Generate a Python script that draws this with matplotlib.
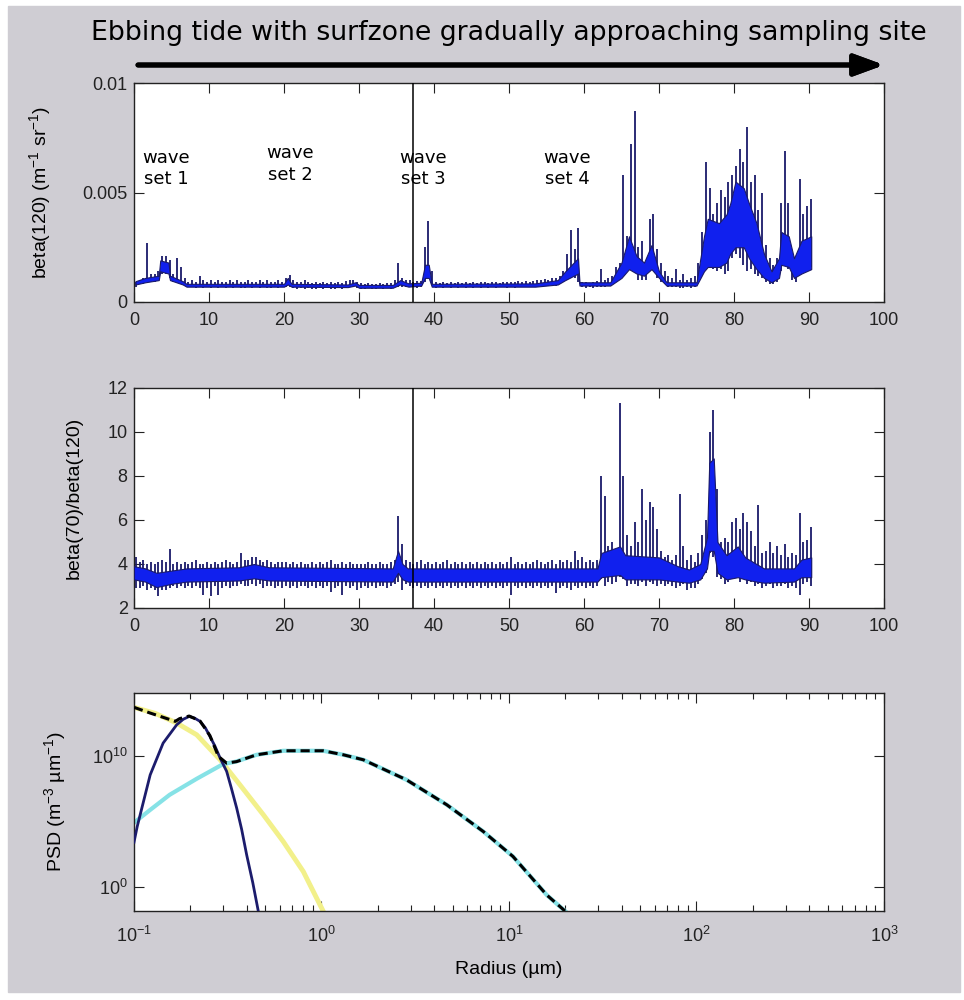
import numpy as np
import matplotlib
matplotlib.use("Agg")
import matplotlib.pyplot as plt
from matplotlib.patches import Rectangle
from matplotlib.ticker import FixedLocator, LogLocator, NullLocator, LogFormatterMathtext

plt.rcParams['font.family'] = ['Liberation Sans', 'DejaVu Sans']
plt.rcParams['mathtext.default'] = 'regular'

NAVY = '#1a1a6a'
BLUE = '#1020ee'

# ---- panel 1: beta(120), per 0.5-wide bin, in units of 1e-4 (max / min of the trace)
b120_hi = [9, 10, 11, 27, 13, 13, 14, 21, 21, 19,
           13, 20, 16, 11, 9, 10, 9, 12, 10, 9,
           10, 9, 10, 9, 9, 10, 9, 10, 9, 9,
           10, 9, 9, 10, 9, 10, 9, 9, 10, 9,
           11, 12.5, 10, 9, 9, 10, 9, 8.5, 9, 8.5,
           9, 8.5, 9, 8.5, 9, 8.5, 9.5, 10, 10, 9,
           8.5, 8, 8.5, 8, 8, 8.5, 8, 8.5, 8.5, 10,
           18, 11, 10, 10, 9, 9.5, 9.5, 25, 37, 14,
           9, 8.5, 9, 8.5, 9, 8.5, 9, 8.5, 9, 8.5,
           9, 8.5, 9, 9, 8.5, 9, 9, 8.5, 9, 9,
           9, 9, 9.5, 9, 9.5, 9, 9.5, 10, 10, 10.5,
           10, 11, 11, 12, 14, 22, 33, 24, 34, 9,
           9, 8.5, 9, 9.5, 15, 10, 11, 12, 16, 18,
           58, 30, 72, 87, 25, 28, 18, 38, 40, 24,
           18, 14, 12, 11, 15, 10, 13, 10, 11, 12,
           18, 32, 64, 52, 40, 45, 51, 48, 55, 58,
           62, 70, 64, 80, 55, 58, 42, 50, 26, 20,
           17, 20, 45, 69, 45, 22, 20, 56, 40, 44,
           47]
b120_lo = [7, 8, 8, 9, 9, 9, 10, 13, 13, 11,
           9, 10, 9, 8, 7, 7, 6.5, 7, 6.5, 7,
           6.5, 7, 6.5, 7, 6.5, 7, 6.5, 7, 6.5, 6.5,
           7, 6.5, 7, 6.5, 7, 6.5, 6.5, 7, 6.5, 7,
           7, 7, 6.5, 6, 6.5, 6, 6.5, 6, 6, 6.5,
           6, 6.5, 6, 6, 6.5, 6, 6.5, 7, 7, 6.5,
           6, 6, 6.5, 6, 6, 6.5, 6, 6.5, 6, 7,
           7, 7, 7, 7, 7, 6.5, 7, 9, 11, 8,
           6.5, 7, 6.5, 7, 6.5, 7, 6.5, 7, 6.5, 7,
           6.5, 7, 6.5, 7, 6.5, 7, 6.5, 7, 7, 6.5,
           7, 6.5, 7, 7, 7, 7.5, 7, 7.5, 7.5, 7.5,
           7.5, 8, 7.5, 8, 9, 10, 11, 11, 9, 7,
           6.5, 7, 6.5, 7, 7, 7, 7.5, 8, 9, 11,
           14, 16, 22, 15, 10, 10, 10, 14, 15, 11,
           9, 8, 7, 7, 7, 6.5, 6.5, 7, 6.5, 7,
           9, 14, 20, 18, 15, 14, 15, 13, 14, 20,
           22, 20, 17, 14, 15, 13, 12, 11, 9, 8,
           8, 9, 14, 18, 15, 10, 9, 14, 15, 14,
           16]
# dense core of the trace, 1e-4 units
core1_x = [0.2, 1.5, 3.3, 3.5, 4.6, 4.8, 6.5, 7.0, 20.0, 20.5, 21.0, 28.5, 29.5, 30.0,
           34.5, 35.5, 36.6, 38.3, 38.8, 39.3, 39.7, 53.5, 56.5, 57.5, 59.2, 59.4,
           63.5, 65, 66, 67, 68, 69, 70, 71,
           75, 76, 76.5, 78, 79, 79.5, 80.2, 81.3, 82, 83, 84, 85, 86, 86.3, 87.3, 88, 89, 90.3]
core1_lo = [8, 9, 10, 14, 13, 10, 8, 7, 7, 8, 7, 6.8, 7.5, 6.5,
            6.5, 8, 7, 7.5, 11, 11, 7, 7, 8, 10, 13, 7.5,
            7.5, 11, 15, 13, 12, 15, 11, 7.5,
            7.5, 14, 16, 16, 18, 22, 25, 25, 20, 15, 11, 9, 11, 17, 16, 11, 13, 15]
core1_hi = [9.5, 11, 12, 19, 18, 12, 9.5, 8.3, 8.3, 11, 8.3, 8, 9, 7.8,
            7.8, 10, 8.5, 8.8, 17, 17, 8.3, 8.5, 10, 14, 20, 9,
            9, 18, 30, 21, 18, 26, 14, 9,
            9, 30, 38, 36, 40, 45, 55, 52, 45, 36, 22, 14, 20, 32, 30, 20, 28, 30]

# ---- panel 2: beta(70)/beta(120), per 0.5-wide bin
ratio_hi = [4.3, 4.1, 4.2, 4.0, 4.1, 4.0, 4.1, 4.2, 4.1, 4.7,
            4.0, 4.1, 4.0, 4.1, 4.0, 4.1, 4.2, 4.0, 4.0, 4.1,
            4.0, 4.1, 4.0, 4.1, 4.2, 4.1, 4.0, 4.1, 4.5, 4.2,
            4.2, 4.3, 4.3, 4.2, 4.1, 4.2, 4.1, 4.0, 4.1, 4.1,
            4.1, 4.0, 4.1, 4.0, 4.1, 4.0, 4.0, 4.1, 4.0, 4.1,
            4.0, 4.1, 4.2, 4.0, 4.0, 4.1, 4.0, 4.1, 4.0, 4.0,
            4.0, 4.0, 4.1, 4.0, 4.0, 4.1, 4.0, 4.0, 4.1, 4.2,
            6.2, 4.9, 4.2, 4.1, 4.0, 4.1, 4.2, 4.0, 4.1, 4.0,
            4.1, 4.0, 4.1, 4.2, 4.0, 4.1, 4.0, 4.1, 4.0, 4.1,
            4.0, 4.1, 4.0, 4.1, 4.0, 4.1, 4.0, 4.1, 4.0, 4.1,
            4.3, 4.0, 4.1, 4.0, 4.1, 4.0, 4.1, 4.2, 4.1, 4.0,
            4.1, 4.2, 4.0, 4.2, 4.1, 4.2, 4.1, 4.6, 4.2, 4.3,
            4.1, 4.2, 4.1, 4.2, 8.0, 7.1, 4.8, 5.0, 4.6, 11.3,
            8.0, 5.3, 4.8, 5.9, 5.0, 7.4, 6.0, 6.8, 6.6, 5.6,
            4.6, 4.3, 4.4, 4.2, 4.4, 7.2, 4.8, 4.2, 4.4, 4.1,
            4.5, 5.3, 6.0, 10.0, 11.0, 7.4, 5.0, 5.2, 5.0, 5.9,
            6.1, 5.6, 6.3, 5.9, 5.5, 4.8, 6.7, 4.5, 4.6, 5.0,
            4.5, 4.8, 4.4, 4.9, 4.3, 4.5, 4.4, 6.3, 5.0, 5.1,
            5.7]
ratio_lo = [2.9, 2.9, 3.0, 2.8, 2.9, 2.8, 2.55, 2.8, 2.8, 2.9,
            3.0, 2.9, 3.0, 2.9, 3.0, 2.9, 3.0, 2.9, 2.6, 2.9,
            2.55, 3.0, 2.6, 2.9, 3.0, 2.9, 3.0, 3.0, 3.1, 3.0,
            3.0, 3.1, 3.0, 3.1, 2.9, 3.0, 3.0, 2.9, 3.0, 2.9,
            3.0, 2.9, 3.0, 2.9, 3.0, 3.0, 2.9, 3.0, 2.9, 3.0,
            2.9, 3.0, 2.75, 2.9, 3.0, 2.6, 3.0, 2.9, 3.0, 2.8,
            2.9, 3.0, 2.9, 3.0, 2.9, 3.0, 3.0, 2.9, 3.0, 3.1,
            3.2, 2.8, 3.1, 3.0, 2.9, 3.0, 2.9, 3.0, 2.9, 3.0,
            2.9, 3.0, 2.9, 3.0, 2.9, 3.0, 2.9, 3.0, 2.9, 3.0,
            2.9, 3.0, 2.9, 3.0, 2.9, 3.0, 2.9, 3.0, 2.9, 3.0,
            2.6, 3.0, 2.9, 3.0, 2.9, 3.0, 2.9, 3.0, 2.9, 3.0,
            2.9, 3.0, 2.7, 2.9, 3.0, 2.9, 2.8, 3.0, 2.9, 3.0,
            2.9, 3.0, 2.9, 3.0, 3.3, 3.0, 3.2, 3.1, 3.2, 3.4,
            3.3, 3.0, 3.1, 3.1, 3.0, 3.2, 3.0, 3.2, 3.1, 3.0,
            3.1, 3.0, 3.1, 3.0, 2.9, 3.0, 3.1, 2.8, 2.9, 2.9,
            3.1, 3.3, 3.6, 4.5, 4.3, 3.4, 3.3, 3.1, 3.2, 3.3,
            3.4, 3.2, 3.3, 3.1, 3.2, 3.0, 3.1, 2.9, 3.0, 3.1,
            2.9, 3.0, 3.0, 3.1, 2.9, 3.0, 2.9, 2.6, 3.1, 3.2,
            3.0]
core2_x = [0, 1.5, 3.0, 5.0, 7.0, 14.0, 16.0, 18.0, 34.5, 35.2, 35.8, 36.5,
           61.8, 62.3, 64.8, 65.5, 70.0, 72.5, 74.0, 75.5,
           76.4, 76.7, 77.3, 77.8, 79.0, 80.5, 81.5, 83.0, 84.0, 88.0, 89.0, 90.3]
core2_lo = [3.3, 3.2, 2.95, 3.1, 3.2, 3.25, 3.35, 3.25, 3.2, 3.6, 3.3, 3.2,
            3.2, 3.4, 3.5, 3.3, 3.3, 3.2, 3.15, 3.3,
            3.8, 4.6, 4.6, 3.6, 3.3, 3.4, 3.3, 3.2, 3.15, 3.2, 3.4, 3.4]
core2_hi = [3.9, 3.8, 3.6, 3.7, 3.8, 3.85, 4.0, 3.85, 3.8, 4.6, 4.0, 3.8,
            3.8, 4.5, 4.8, 4.4, 4.3, 3.9, 3.75, 4.0,
            5.2, 8.6, 8.8, 5.0, 4.4, 4.8, 4.3, 4.0, 3.8, 3.8, 4.2, 4.3]

marker_x = 37.2
wave_labels = ['wave\nset 1', 'wave\nset 2', 'wave\nset 3', 'wave\nset 4']
wave_x = [4.3, 20.8, 38.6, 57.8]
wave_y = [0.0061, 0.0063, 0.0061, 0.0061]

# ---- panel 3: particle size distributions (radius in um, log10 PSD)
navy_r = [0.100, 0.104, 0.110, 0.122, 0.143, 0.169, 0.183, 0.197, 0.210, 0.225, 0.240,
          0.254, 0.270, 0.288, 0.312, 0.330, 0.353, 0.375, 0.399, 0.430, 0.460]
navy_psd = [3.4, 4.6, 6.0, 8.58, 11.02, 12.43, 12.85, 13.07, 12.95, 12.69, 12.2,
            11.54, 10.8, 9.87, 8.85, 7.6, 6.02, 4.4, 2.43, 0.3, -1.88]
yellow_r = [0.100, 0.130, 0.169, 0.216, 0.288, 0.367, 0.490, 0.625, 0.800, 1.02]
yellow_psd = [13.77, 13.3, 12.56, 11.66, 9.74, 7.82, 5.51, 3.46, 1.15, -1.88]
cyan_r = [0.100, 0.122, 0.155, 0.216, 0.299, 0.350, 0.450, 0.625, 1.02, 1.31, 1.67,
          2.84, 4.66, 7.29, 10.5, 15.9, 19.9]
cyan_psd = [4.9, 5.89, 7.05, 8.28, 9.41, 9.6, 10.12, 10.43, 10.43, 10.12, 9.74,
            8.2, 6.28, 4.23, 2.31, -0.65, -1.88]
total_r = [0.100, 0.122, 0.143, 0.166, 0.175, 0.197, 0.225, 0.254, 0.282, 0.312, 0.353,
           0.450, 0.625, 1.02, 1.31, 1.67, 2.84, 4.66, 7.29, 10.5, 15.9, 19.9]
total_psd = [13.77, 13.33, 13.0, 12.69, 12.9, 13.1, 12.72, 11.6, 10.0, 9.48, 9.6,
             10.12, 10.43, 10.43, 10.12, 9.74, 8.2, 6.28, 4.23, 2.31, -0.65, -1.88]


def trace(ax, hi, lo, cx, clo, chi, scale=1.0):
    # one hair per bin from min to max, dense core drawn over it
    xc = 0.25 + 0.5 * np.arange(len(hi))
    ax.vlines(xc, np.array(lo) * scale, np.array(hi) * scale, color=NAVY, lw=1.3, zorder=2)
    ax.fill_between(cx, np.array(clo) * scale, np.array(chi) * scale,
                    facecolor=BLUE, edgecolor=NAVY, lw=0.8, zorder=3)


def style(ax):
    ax.set_facecolor('white')
    for s in ax.spines.values():
        s.set_linewidth(1.0)
        s.set_color('#222222')
    ax.tick_params(which='both', direction='in', top=True, right=True,
                   colors='#222222', labelsize=13, width=0.8)
    ax.tick_params(which='major', length=7)
    ax.tick_params(axis='x', which='major', pad=7)
    ax.tick_params(axis='y', which='major', pad=4.5)
    ax.tick_params(which='minor', length=4)


fig = plt.figure(figsize=(9.64, 10), dpi=100, facecolor='white')
fig.add_artist(Rectangle((8 / 964, 1 - 992 / 1000), 952 / 964, 986 / 1000,
                         transform=fig.transFigure, color='#cfcdd3', zorder=0))

# panel 1
ax1 = fig.add_axes([0.139, 0.698, 0.778, 0.219])
trace(ax1, b120_hi, b120_lo, core1_x, core1_lo, core1_hi, scale=1e-4)
ax1.axvline(marker_x, color='black', lw=1.1, zorder=4)
for lab, x, y in zip(wave_labels, wave_x, wave_y):
    ax1.text(x, y, lab, ha='center', va='center', fontsize=13,
             family='DejaVu Sans', linespacing=1.25, zorder=5)
ax1.set_xlim(0, 100)
ax1.set_ylim(0, 0.01)
ax1.set_xticks(range(0, 101, 10))
ax1.set_yticks([0, 0.005, 0.01])
ax1.set_yticklabels(['0', '0.005', '0.01'])
ax1.set_ylabel('beta(120) (m$^{-1}$ sr$^{-1}$)', fontsize=14)
ax1.yaxis.set_label_coords(-0.108, 0.5)
style(ax1)

# panel 2
ax2 = fig.add_axes([0.139, 0.392, 0.778, 0.220])
trace(ax2, ratio_hi, ratio_lo, core2_x, core2_lo, core2_hi)
ax2.axvline(marker_x, color='black', lw=1.1, zorder=4)
ax2.set_xlim(0, 100)
ax2.set_ylim(2, 12)
ax2.set_xticks(range(0, 101, 10))
ax2.set_yticks(range(2, 13, 2))
ax2.set_ylabel('beta(70)/beta(120)', fontsize=14)
ax2.yaxis.set_label_coords(-0.069, 0.5)
style(ax2)

# panel 3
ax3 = fig.add_axes([0.139, 0.089, 0.778, 0.218])
ax3.set_xscale('log')
ax3.set_yscale('log')
ax3.plot(yellow_r, 10.0 ** np.array(yellow_psd), color='#f2f08a', lw=3.5, zorder=2)
ax3.plot(cyan_r, 10.0 ** np.array(cyan_psd), color='#86e2e6', lw=3.0, zorder=2)
ax3.plot(navy_r, 10.0 ** np.array(navy_psd), color='#1c1c6c', lw=2.0, zorder=3)
ax3.plot(total_r, 10.0 ** np.array(total_psd), color='black', lw=2.2,
         dashes=(3, 1.6), zorder=4)
ax3.set_xlim(0.1, 1000)
ax3.set_ylim(10 ** -1.88, 10 ** 14.87)
ax3.xaxis.set_major_locator(LogLocator(base=10, numticks=10))
ax3.xaxis.set_minor_locator(LogLocator(base=10, subs=np.arange(2, 10), numticks=20))
ax3.yaxis.set_major_locator(FixedLocator([1, 1e10]))
ax3.yaxis.set_major_formatter(LogFormatterMathtext())
ax3.yaxis.set_minor_locator(NullLocator())
ax3.set_xlabel('Radius (\u00b5m)', fontsize=14)
ax3.xaxis.set_label_coords(0.5, -0.229)
ax3.set_ylabel('PSD (m$^{-3}$ \u00b5m$^{-1}$)', fontsize=14)
ax3.yaxis.set_label_coords(-0.088, 0.5)
style(ax3)
ax3.tick_params(axis='x', which='major', pad=10.5)

# heading and arrow
fig.text(0.528, 0.967, 'Ebbing tide with surfzone gradually approaching sampling site',
         ha='center', va='center', fontsize=19.3, family='DejaVu Sans')
fig.add_artist(plt.annotate('', xy=(884, 935), xytext=(138, 935), xycoords='figure pixels',
                            arrowprops=dict(arrowstyle='-|>,head_length=0.9,head_width=0.33',
                                            lw=3.6, color='black', mutation_scale=20,
                                            shrinkA=0, shrinkB=0)))

fig.savefig('out.png', dpi=100, facecolor=fig.get_facecolor())
